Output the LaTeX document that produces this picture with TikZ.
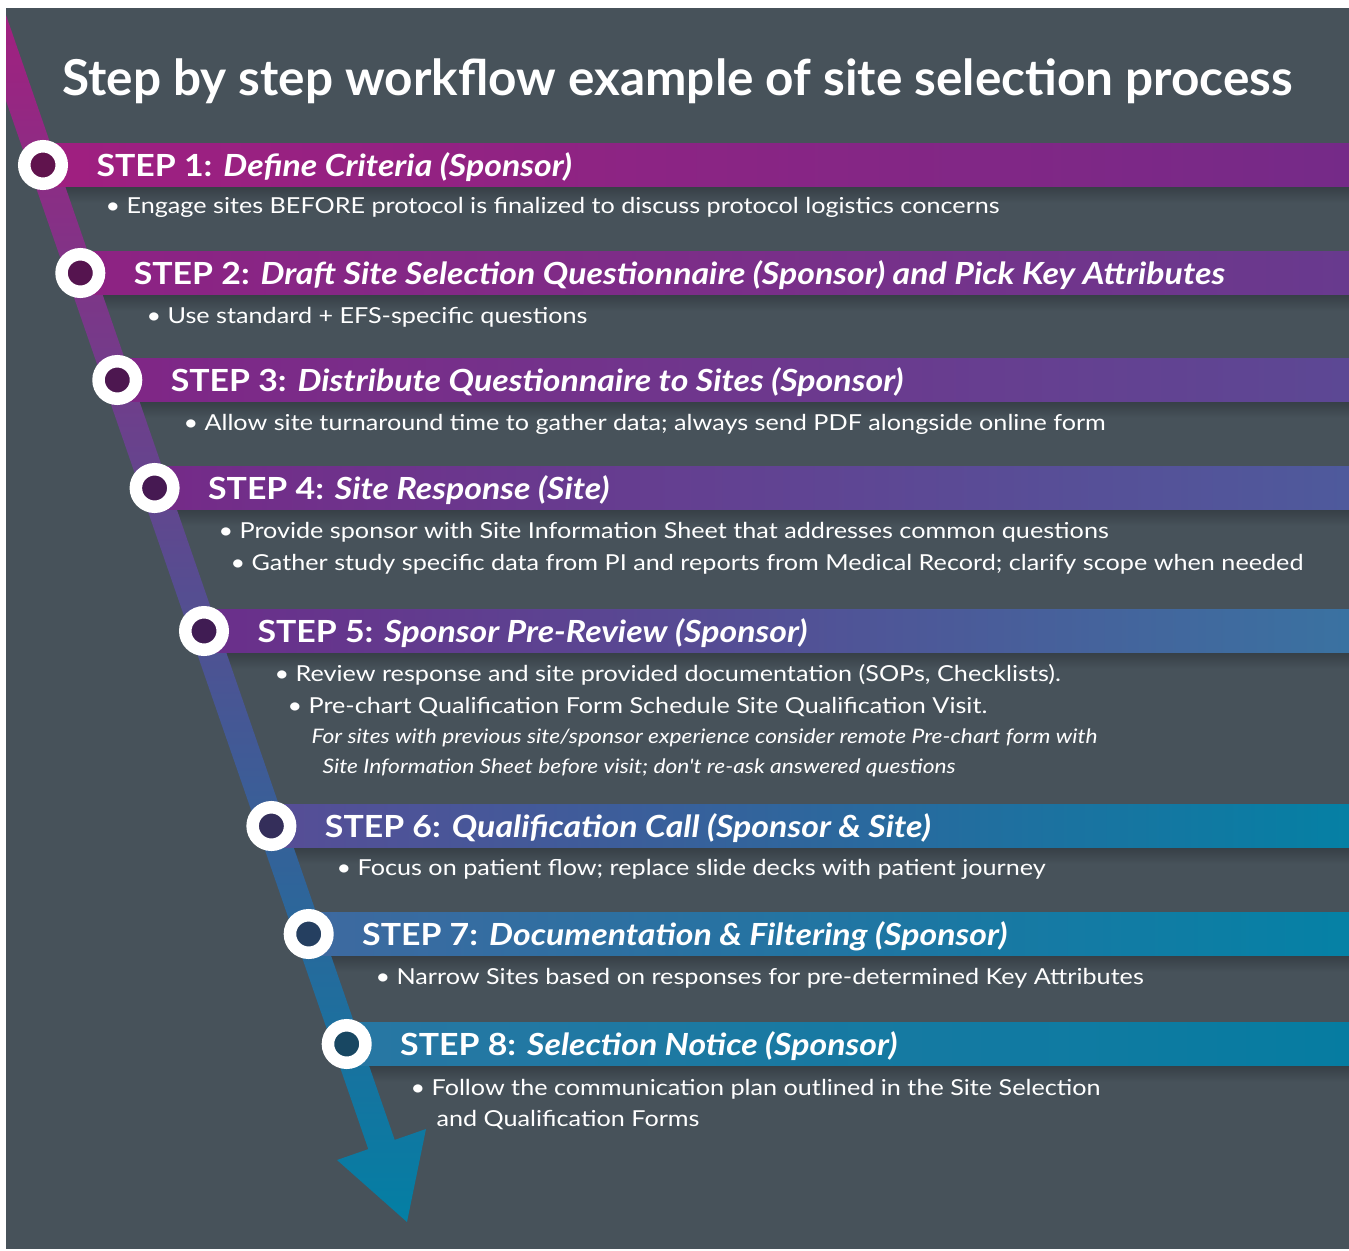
\documentclass[tikz,border=0pt]{standalone}
\usepackage{fontspec}
\setmainfont{Lato}
\newfontfamily\headfont{Lato}[FakeStretch=1.11]
\newfontfamily\itemfont{Lato}[FakeStretch=1.145]
\newfontfamily\notefont{Lato}[FakeStretch=1.14]
\usepackage{tikz}
\usetikzlibrary{calc}
\usetikzlibrary{positioning}

\definecolor{slate}{HTML}{47525A}
\definecolor{slatedark}{HTML}{363F46}
\definecolor{bandtop}{HTML}{A31F7F}
\definecolor{bandmid}{HTML}{673A8F}
\definecolor{bandend}{HTML}{037FA4}
\definecolor{b1l}{HTML}{A01F80}\definecolor{b1r}{HTML}{752A88}
\definecolor{b2l}{HTML}{8E2283}\definecolor{b2r}{HTML}{683A8E}
\definecolor{b3l}{HTML}{802686}\definecolor{b3r}{HTML}{5C4894}
\definecolor{b4l}{HTML}{752A88}\definecolor{b4r}{HTML}{4E5A9C}
\definecolor{b5l}{HTML}{6B2E8A}\definecolor{b5r}{HTML}{3A72A1}
\definecolor{b6l}{HTML}{574D96}\definecolor{b6r}{HTML}{0580A4}
\definecolor{b7l}{HTML}{3E69A0}\definecolor{b7r}{HTML}{0581A5}
\definecolor{b8l}{HTML}{2877A3}\definecolor{b8r}{HTML}{067CA1}

\begin{document}
\begin{tikzpicture}[x=1pt, y=-1pt,
    ring/.style={circle, draw=white, line width=12.5pt, minimum size=37.5pt, inner sep=0pt, outer sep=0pt},
    head/.style={anchor=base west, text=white, font=\headfont\fontsize{30.5}{30.5}\selectfont\bfseries},
    item/.style={anchor=base west, xshift=-5pt, text=white, font=\itemfont\fontsize{22}{22}\selectfont},
    note/.style={anchor=base west, xshift=-4pt, text=white, font=\notefont\fontsize{20}{20}\selectfont\itshape}]
    \useasboundingbox (0,0) rectangle (1349,1250);
    \fill[slate] (6,8) rectangle (1349,1249);
    \node[anchor=base west, text=white, font=\fontsize{49.5}{49.5}\selectfont\bfseries] (title) at (59,95)
        {Step by step workflow example of site selection process};
    % shadows under the bars
    \foreach \y in {165,273,380,488,631,826,934,1044}
        \shade[top color=slatedark, bottom color=slate] ({43+0.3455*(\y-165)},\y+21.5) rectangle (1349,\y+38);
    % the arrow down the left
    \coordinate (tip) at (407,1222);
    \begin{scope}
        \clip (6,8) rectangle (1349,1249);
        \shade[top color=bandtop, middle color=bandmid, bottom color=bandend]
            (-28.8,0) -- (368.3,1149.1) -- (337,1160) -- (tip) -- (426,1129) -- (394.7,1139.9) -- (0.8,0) -- cycle;
    \end{scope}
    % one bar per step
    \foreach \y/\cl/\cr/\t [count=\i from 1] in {165/b1l/b1r/Define Criteria (Sponsor),
        273/b2l/b2r/Draft Site Selection Questionnaire (Sponsor) and Pick Key Attributes,
        380/b3l/b3r/Distribute Questionnaire to Sites (Sponsor),
        488/b4l/b4r/Site Response (Site),
        631/b5l/b5r/Sponsor Pre-Review (Sponsor),
        826/b6l/b6r/Qualification Call (Sponsor \& Site),
        934/b7l/b7r/Documentation \& Filtering (Sponsor),
        1044/b8l/b8r/Selection Notice (Sponsor)}
    {
        \coordinate (c) at ({43+0.3455*(\y-165)}, \y);
        \shade[left color=\cl, right color=\cr] ($(c)+(0,-21.5)$) rectangle (1349,\y+21.5);
        \node[ring, fill=\cl!60!black] (s\i) at (c) {};
        \node[head] (h\i) at ($(c)+(50,11)$) {STEP \i: \textit{\t}};
    }
    \node[item] (b1) at (107,213) {• Engage sites BEFORE protocol is finalized to discuss protocol logistics concerns};
    \node[item] (b2) at (148,323) {• Use standard + EFS-specific questions};
    \node[item] (b3) at (185,430) {• Allow site turnaround time to gather data; always send PDF alongside online form};
    \node[item] (b4) at (220,538) {• Provide sponsor with Site Information Sheet that addresses common questions};
    \node[item] (b5) at (232,570) {• Gather study specific data from PI and reports from Medical Record; clarify scope when needed};
    \node[item] (b6) at (276,681) {• Review response and site provided documentation (SOPs, Checklists).};
    \node[item] (b7) at (289,713) {• Pre-chart Qualification Form Schedule Site Qualification Visit.};
    \node[note] (n1) at (312,743) {For sites with previous site/sponsor experience consider remote Pre-chart form with};
    \node[note] (n2) at (323,773) {Site Information Sheet before visit; don't re-ask answered questions};
    \node[item] (b8) at (338,875) {• Focus on patient flow; replace slide decks with patient journey};
    \node[item] (b9) at (377,984) {• Narrow Sites based on responses for pre-determined Key Attributes};
    \node[item] (b10) at (412,1095) {• Follow the communication plan outlined in the Site Selection};
    \node[item] (b11) at (438,1126) {and Qualification Forms};
\end{tikzpicture}
\end{document}
